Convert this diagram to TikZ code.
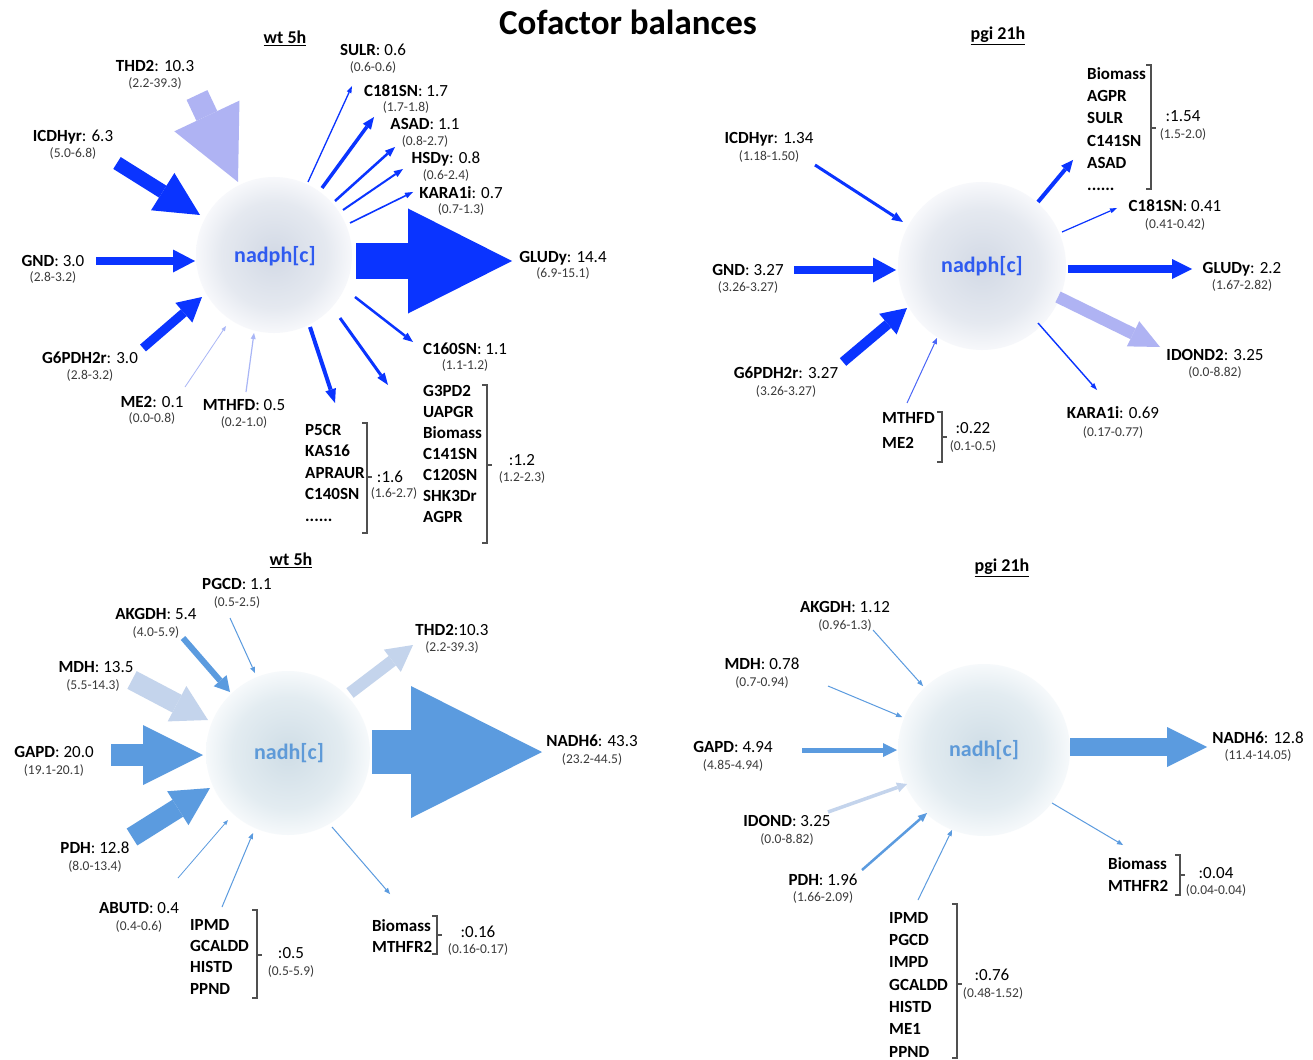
\documentclass[tikz,border=0pt]{standalone}
\usepackage{fontspec}
\setmainfont{Carlito}
\usetikzlibrary{arrows.meta}
\definecolor{dblue}{HTML}{0A34FF}
\definecolor{lav}{HTML}{AFB3F3}
\definecolor{lavthin}{HTML}{A9B6F6}
\definecolor{tblue}{HTML}{4A66F7}
\definecolor{mblue}{HTML}{5B9BDF}
\definecolor{lblue}{HTML}{C4D4EC}
\definecolor{nadphtxt}{HTML}{2F5BF0}
\definecolor{nadhtxt}{HTML}{5E9AD8}
\definecolor{rng}{HTML}{3A3A3A}
\definecolor{brkc}{HTML}{505050}
\definecolor{pA}{HTML}{D2D9E5}
\definecolor{pB}{HTML}{E5E9F0}
\definecolor{pC}{HTML}{F7F8FB}
\definecolor{hA}{HTML}{CFDDE6}
\definecolor{hB}{HTML}{E3ECF1}
\definecolor{hC}{HTML}{F6F9FB}
\pgfdeclareradialshading{pball}{\pgfpoint{0bp}{0bp}}{color(0bp)=(pA); color(17bp)=(pB); color(25bp)=(pC); color(50bp)=(pC)}
\pgfdeclareradialshading{hball}{\pgfpoint{0bp}{0bp}}{color(0bp)=(hA); color(17bp)=(hB); color(25bp)=(hC); color(50bp)=(hC)}
\tikzset{
 mlab/.style={font=\fontsize{17}{20}\selectfont, text=black, inner sep=0pt, text height=11pt, text depth=0pt},
 rlab/.style={font=\fontsize{13.5}{16}\selectfont, text=rng, inner sep=0pt, text height=9.5pt, text depth=2.5pt},
 grp/.style={font=\fontsize{17}{#1}\selectfont\bfseries, align=left, anchor=north west, inner sep=0pt},
 hdr/.style={font=\fontsize{18}{20}\selectfont\bfseries, inner sep=0pt},
 brk/.style={draw=brkc, line width=1.1pt},
 ballnode/.style={circle, minimum size=#1, inner sep=0pt, draw=none},
 fat/.style n args={3}{line width=#1pt, -{Triangle[length=#3pt,width=#2pt,line width=0pt]}},
}
\newcommand\flx[5]{\node[mlab] (#1) at #2 {#4}; \node[rlab] (#1r) at #3 {#5};}
\newcommand\brkt[4]{\draw[brk] (#1-5,#2) -- (#1,#2) -- (#1,#3) -- (#1-5,#3) (#1,#4) -- (#1+5,#4);}
\begin{document}
\begin{tikzpicture}[x=1pt,y=-1pt]
\useasboundingbox[fill=white] (0,0) rectangle (1313,1059);
% title and headers
\node[font=\fontsize{35}{40}\selectfont\bfseries, inner sep=0pt] (title) at (628,22) {Cofactor balances};
\node[hdr] (h1) at (285,38) {\underline{wt 5h}};
\node[hdr] (h2) at (998,36) {\underline{pgi 21h}};
\node[hdr] (h3) at (291,560) {\underline{wt 5h}};
\node[hdr] (h4) at (1002,568) {\underline{pgi 21h}};
% circles
\node[ballnode=156pt, shading=pball] (c1) at (274,255) {};
\node[ballnode=168pt, shading=pball] (c2) at (982,266) {};
\node[ballnode=164pt, shading=hball] (c3) at (288,753) {};
\node[ballnode=172pt, shading=hball] (c4) at (984,750) {};
\node[font=\fontsize{22}{24}\selectfont\bfseries, text=nadphtxt] (t1) at (275,256) {nadph[c]};
\node[font=\fontsize{22}{24}\selectfont\bfseries, text=nadphtxt] (t2) at (982,266) {nadph[c]};
\node[font=\fontsize{22}{24}\selectfont\bfseries, text=nadhtxt] (t3) at (289,753) {nadh[c]};
\node[font=\fontsize{22}{24}\selectfont\bfseries, text=nadhtxt] (t4) at (984,750) {nadh[c]};

% ===== Q1 coordinates =====
\coordinate (q1thdS) at (197,95);   \coordinate (q1thdE) at (238,182);
\coordinate (q1icdS) at (117,163);  \coordinate (q1icdE) at (200,215);
\coordinate (q1gndS) at (96,261);   \coordinate (q1gndE) at (195,261);
\coordinate (q1g6pS) at (143,348);  \coordinate (q1g6pE) at (202,297);
\coordinate (q1me2S) at (185,387);  \coordinate (q1me2E) at (226,326);
\coordinate (q1mthS) at (246,392);  \coordinate (q1mthE) at (254,333);
\coordinate (q1sulS) at (308,182);  \coordinate (q1sulE) at (352,86);
\coordinate (q1c181S) at (322,188); \coordinate (q1c181E) at (374,117);
\coordinate (q1asaS) at (335,201);  \coordinate (q1asaE) at (395,147);
\coordinate (q1hsdS) at (343,210);  \coordinate (q1hsdE) at (403,169);
\coordinate (q1karS) at (350,223);  \coordinate (q1karE) at (413,192);
\coordinate (q1gluS) at (356,261);  \coordinate (q1gluE) at (512,261);
\coordinate (q1c160S) at (355,297); \coordinate (q1c160E) at (413,342);
\coordinate (q1g3pS) at (340,318);  \coordinate (q1g3pE) at (388,385);
\coordinate (q1p5cS) at (310,327);  \coordinate (q1p5cE) at (335,403);
\draw[lav, fat={23}{72}{73}] (q1thdS) -- (q1thdE);
\draw[dblue, fat={14}{44}{44}] (q1icdS) -- (q1icdE);
\draw[dblue, fat={8}{23}{22}] (q1gndS) -- (q1gndE);
\draw[dblue, fat={9}{26}{24}] (q1g6pS) -- (q1g6pE);
\draw[lavthin, fat={0.8}{4}{5}] (q1me2S) -- (q1me2E);
\draw[lavthin, fat={1.2}{5}{6}] (q1mthS) -- (q1mthE);
\draw[dblue, fat={1.3}{5}{7}] (q1sulS) -- (q1sulE);
\draw[dblue, fat={3.5}{10}{12}] (q1c181S) -- (q1c181E);
\draw[dblue, fat={2.5}{8}{10}] (q1asaS) -- (q1asaE);
\draw[dblue, fat={2}{7}{9}] (q1hsdS) -- (q1hsdE);
\draw[dblue, fat={1.6}{6}{8}] (q1karS) -- (q1karE);
\draw[dblue, fat={36}{105}{104}] (q1gluS) -- (q1gluE);
\draw[dblue, fat={2.5}{8}{10}] (q1c160S) -- (q1c160E);
\draw[dblue, fat={3}{9}{12}] (q1g3pS) -- (q1g3pE);
\draw[dblue, fat={4}{11}{14}] (q1p5cS) -- (q1p5cE);
% Q1 labels
\flx{q1thd}{(155,66)}{(155,84)}{\textbf{THD2}: 10.3}{(2.2-39.3)}
\flx{q1icd}{(73,136)}{(73,154)}{\textbf{ICDHyr}: 6.3}{(5.0-6.8)}
\flx{q1gnd}{(53,261)}{(53,278)}{\textbf{GND}: 3.0}{(2.8-3.2)}
\flx{q1g6p}{(90,358)}{(90,376)}{\textbf{G6PDH2r}: 3.0}{(2.8-3.2)}
\flx{q1me2}{(152,402)}{(152,419)}{\textbf{ME2}: 0.1}{(0.0-0.8)}
\flx{q1mth}{(244,405)}{(244,423)}{\textbf{MTHFD}: 0.5}{(0.2-1.0)}
\flx{q1sul}{(373,50)}{(373,68)}{\textbf{SULR}: 0.6}{(0.6-0.6)}
\flx{q1c181}{(406,91)}{(406,108)}{\textbf{C181SN}: 1.7}{(1.7-1.8)}
\flx{q1asa}{(425,124)}{(425,142)}{\textbf{ASAD}: 1.1}{(0.8-2.7)}
\flx{q1hsd}{(446,158)}{(446,176)}{\textbf{HSDy}: 0.8}{(0.6-2.4)}
\flx{q1kar}{(461,193)}{(461,210)}{\textbf{KARA1i}: 0.7}{(0.7-1.3)}
\flx{q1glu}{(563,257)}{(563,274)}{\textbf{GLUDy}: 14.4}{(6.9-15.1)}
\flx{q1c160}{(465,349)}{(465,366)}{\textbf{C160SN}: 1.1}{(1.1-1.2)}
\node[grp=21.5] (q1g1) at (305,424) {P5CR\\KAS16\\APRAUR\\C140SN\\......};
\brkt{367}{423}{533}{477}
\flx{q1g1v}{(390,477)}{(394,494)}{:1.6}{(1.6-2.7)}
\node[grp=21] (q1g2) at (423,385) {G3PD2\\UAPGR\\Biomass\\C141SN\\C120SN\\SHK3Dr\\AGPR};
\brkt{487}{385}{543}{465}
\flx{q1g2v}{(522,460)}{(522,478)}{:1.2}{(1.2-2.3)}

% ===== Q2 =====
\coordinate (q2icdS) at (815,165);  \coordinate (q2icdE) at (903,222);
\coordinate (q2gndS) at (794,270);  \coordinate (q2gndE) at (896,270);
\coordinate (q2g6pS) at (843,362);  \coordinate (q2g6pE) at (907,308);
\coordinate (q2mthS) at (907,403);  \coordinate (q2mthE) at (937,338);
\coordinate (q2grpS) at (1038,202); \coordinate (q2grpE) at (1073,160);
\coordinate (q2c181S) at (1062,232);\coordinate (q2c181E) at (1117,208);
\coordinate (q2gluS) at (1068,269); \coordinate (q2gluE) at (1192,269);
\coordinate (q2idoS) at (1058,297); \coordinate (q2idoE) at (1160,347);
\coordinate (q2karS) at (1038,323); \coordinate (q2karE) at (1097,390);
\draw[dblue, fat={3}{9}{11}] (q2icdS) -- (q2icdE);
\draw[dblue, fat={8}{25}{23}] (q2gndS) -- (q2gndE);
\draw[dblue, fat={10}{27}{25}] (q2g6pS) -- (q2g6pE);
\draw[tblue, fat={1}{5}{6}] (q2mthS) -- (q2mthE);
\draw[dblue, fat={4}{11}{12}] (q2grpS) -- (q2grpE);
\draw[dblue, fat={1.2}{5}{7}] (q2c181S) -- (q2c181E);
\draw[dblue, fat={8}{20}{20}] (q2gluS) -- (q2gluE);
\draw[lav, fat={12}{28}{30}] (q2idoS) -- (q2idoE);
\draw[dblue, fat={1.4}{5}{7}] (q2karS) -- (q2karE);
\flx{q2icd}{(769,138)}{(769,157)}{\textbf{ICDHyr}: 1.34}{(1.18-1.50)}
\flx{q2gnd}{(748,270)}{(748,288)}{\textbf{GND}: 3.27}{(3.26-3.27)}
\flx{q2g6p}{(786,373)}{(786,392)}{\textbf{G6PDH2r}: 3.27}{(3.26-3.27)}
\flx{q2c181}{(1175,206)}{(1175,225)}{\textbf{C181SN}: 0.41}{(0.41-0.42)}
\flx{q2glu}{(1242,268)}{(1242,286)}{\textbf{GLUDy}: 2.2}{(1.67-2.82)}
\flx{q2ido}{(1215,355)}{(1215,373)}{\textbf{IDOND2}: 3.25}{(0.0-8.82)}
\flx{q2kar}{(1113,413)}{(1113,433)}{\textbf{KARA1i}: 0.69}{(0.17-0.77)}
\node[grp=22.3] (q2g1) at (1087,67) {Biomass\\AGPR\\SULR\\C141SN\\ASAD\\......};
\brkt{1151}{65}{189}{128}
\flx{q2g1v}{(1183,116)}{(1183,135)}{:1.54}{(1.5-2.0)}
\node[grp=25] (q2g2) at (882,412) {MTHFD\\ME2};
\brkt{942}{412}{462}{437}
\flx{q2g2v}{(973,428)}{(973,447)}{:0.22}{(0.1-0.5)}

% ===== Q3 =====
\coordinate (q3pgcS) at (230,618);  \coordinate (q3pgcE) at (255,673);
\coordinate (q3akgS) at (183,638);  \coordinate (q3akgE) at (230,692);
\coordinate (q3mdhS) at (132,680);  \coordinate (q3mdhE) at (208,720);
\coordinate (q3gapS) at (111,755);  \coordinate (q3gapE) at (203,755);
\coordinate (q3pdhS) at (132,837);  \coordinate (q3pdhE) at (210,788);
\coordinate (q3abuS) at (178,878);  \coordinate (q3abuE) at (228,820);
\coordinate (q3ipmS) at (222,907);  \coordinate (q3ipmE) at (253,833);
\coordinate (q3bioS) at (332,827);  \coordinate (q3bioE) at (390,894);
\coordinate (q3thdS) at (350,693);  \coordinate (q3thdE) at (413,645);
\coordinate (q3ndhS) at (372,752);  \coordinate (q3ndhE) at (542,752);
\draw[mblue, fat={1}{5}{6}] (q3pgcS) -- (q3pgcE);
\draw[mblue, fat={6}{17}{15}] (q3akgS) -- (q3akgE);
\draw[lblue, fat={20}{40}{35}] (q3mdhS) -- (q3mdhE);
\draw[mblue, fat={22}{60}{60}] (q3gapS) -- (q3gapE);
\draw[mblue, fat={20}{40}{38}] (q3pdhS) -- (q3pdhE);
\draw[mblue, fat={0.8}{4}{5}] (q3abuS) -- (q3abuE);
\draw[mblue, fat={1}{5}{6}] (q3ipmS) -- (q3ipmE);
\draw[mblue, fat={1}{5}{6}] (q3bioS) -- (q3bioE);
\draw[lblue, fat={12}{28}{26}] (q3thdS) -- (q3thdE);
\draw[mblue, fat={44}{132}{131}] (q3ndhS) -- (q3ndhE);
\flx{q3pgc}{(237,584)}{(237,603)}{\textbf{PGCD}: 1.1}{(0.5-2.5)}
\flx{q3akg}{(156,614)}{(156,633)}{\textbf{AKGDH}: 5.4}{(4.0-5.9)}
\flx{q3mdh}{(96,667)}{(93,686)}{\textbf{MDH}: 13.5}{(5.5-14.3)}
\flx{q3gap}{(54,752)}{(54,771)}{\textbf{GAPD}: 20.0}{(19.1-20.1)}
\flx{q3pdh}{(95,848)}{(95,867)}{\textbf{PDH}: 12.8}{(8.0-13.4)}
\flx{q3abu}{(139,908)}{(139,927)}{\textbf{ABUTD}: 0.4}{(0.4-0.6)}
\flx{q3thd}{(452,630)}{(452,648)}{\textbf{THD2}:10.3}{(2.2-39.3)}
\flx{q3ndh}{(592,741)}{(592,760)}{\textbf{NADH6}: 43.3}{(23.2-44.5)}
\node[grp=21.3] (q3g1) at (190,919) {IPMD\\GCALDD\\HISTD\\PPND};
\brkt{257}{910}{998}{955}
\flx{q3g1v}{(291,953)}{(291,972)}{:0.5}{(0.5-5.9)}
\node[grp=21] (q3g2) at (372,919) {Biomass\\MTHFR2};
\brkt{437}{916}{954}{935}
\flx{q3g2v}{(478,932)}{(478,950)}{:0.16}{(0.16-0.17)}

% ===== Q4 =====
\coordinate (q4akgS) at (873,630);  \coordinate (q4akgE) at (923,686);
\coordinate (q4mdhS) at (828,686);  \coordinate (q4mdhE) at (902,717);
\coordinate (q4gapS) at (802,750);  \coordinate (q4gapE) at (897,750);
\coordinate (q4idoS) at (828,812);  \coordinate (q4idoE) at (907,784);
\coordinate (q4pdhS) at (862,870);  \coordinate (q4pdhE) at (927,813);
\coordinate (q4ipmS) at (918,900);  \coordinate (q4ipmE) at (952,830);
\coordinate (q4bioS) at (1052,803); \coordinate (q4bioE) at (1123,845);
\coordinate (q4ndhS) at (1070,747); \coordinate (q4ndhE) at (1207,747);
\draw[mblue, fat={1}{5}{6}] (q4akgS) -- (q4akgE);
\draw[mblue, fat={1}{5}{6}] (q4mdhS) -- (q4mdhE);
\draw[mblue, fat={5}{14}{14}] (q4gapS) -- (q4gapE);
\draw[lblue, fat={3.5}{10}{10}] (q4idoS) -- (q4idoE);
\draw[mblue, fat={2.5}{8}{9}] (q4pdhS) -- (q4pdhE);
\draw[mblue, fat={1}{5}{6}] (q4ipmS) -- (q4ipmE);
\draw[mblue, fat={1}{5}{6}] (q4bioS) -- (q4bioE);
\draw[mblue, fat={18}{40}{40}] (q4ndhS) -- (q4ndhE);
\flx{q4akg}{(845,607)}{(845,626)}{\textbf{AKGDH}: 1.12}{(0.96-1.3)}
\flx{q4mdh}{(762,664)}{(762,683)}{\textbf{MDH}: 0.78}{(0.7-0.94)}
\flx{q4gap}{(733,747)}{(733,766)}{\textbf{GAPD}: 4.94}{(4.85-4.94)}
\flx{q4ido}{(787,821)}{(787,840)}{\textbf{IDOND}: 3.25}{(0.0-8.82)}
\flx{q4pdh}{(823,880)}{(823,898)}{\textbf{PDH}: 1.96}{(1.66-2.09)}
\flx{q4ndh}{(1258,738)}{(1258,756)}{\textbf{NADH6}: 12.8}{(11.4-14.05)}
\node[grp=22.3] (q4g1) at (889,912) {IPMD\\PGCD\\IMPD\\GCALDD\\HISTD\\ME1\\PPND};
\brkt{957}{904}{1058}{984}
\flx{q4g1v}{(992,975)}{(993,994)}{:0.76}{(0.48-1.52)}
\node[grp=22] (q4g2) at (1108,857) {Biomass\\MTHFR2};
\brkt{1180}{855}{895}{875}
\flx{q4g2v}{(1216,873)}{(1216,891)}{:0.04}{(0.04-0.04)}
\end{tikzpicture}
\end{document}
